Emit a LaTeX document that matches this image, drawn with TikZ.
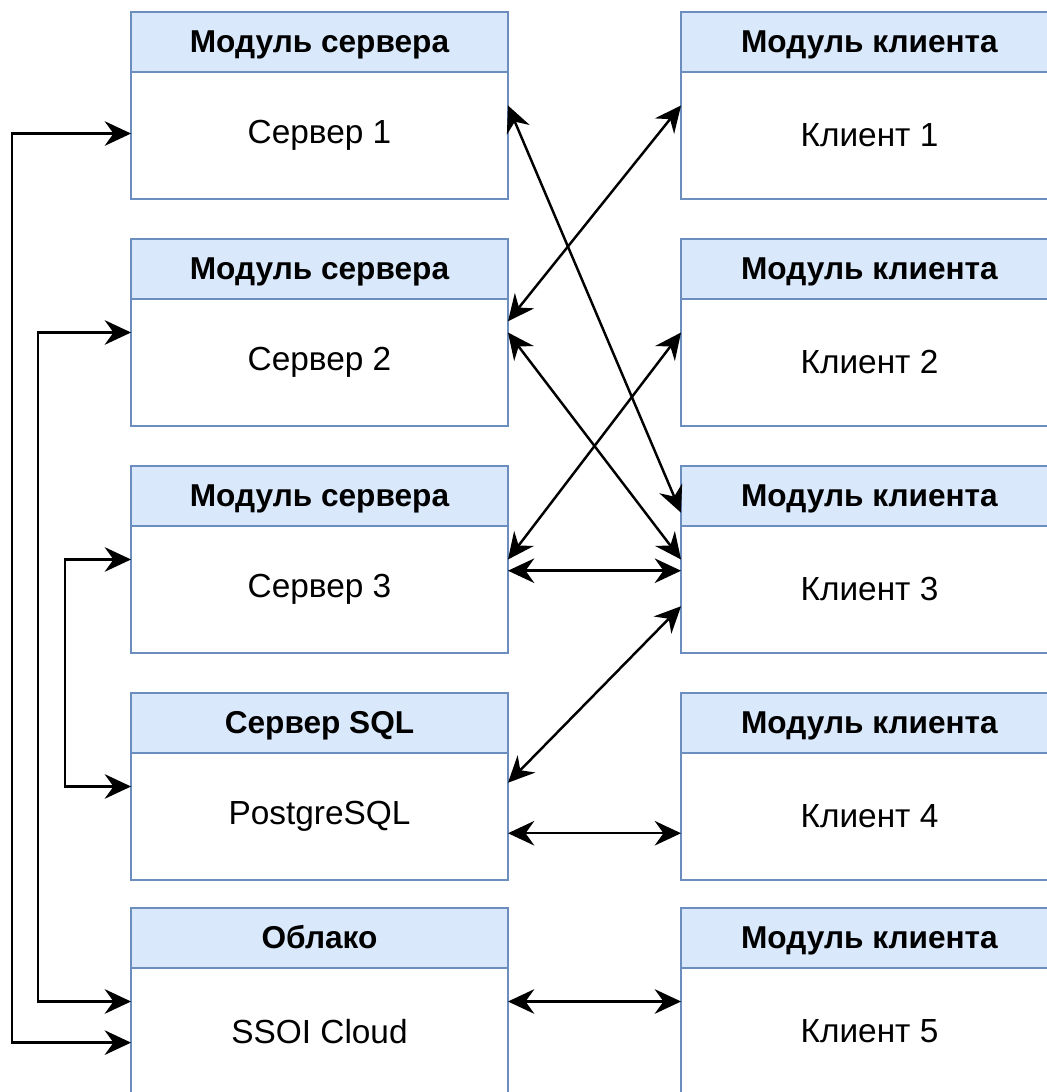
\documentclass[tikz,border=0pt]{standalone}
\usepackage{fontspec}
\setmainfont{Liberation Sans}
\usetikzlibrary{calc, positioning, arrows.meta}
\definecolor{lanefill}{HTML}{DAE8FC}
\definecolor{laneline}{HTML}{6C8EBF}

\begin{document}
\begin{tikzpicture}[x=0.02cm, y=-0.02cm,
  hdr/.style={draw=laneline, fill=lanefill, line width=1.4pt, minimum width=7.54cm, minimum height=1.2cm, inner sep=0pt, outer sep=0pt, text height=12.5pt, text depth=0pt, font=\fontsize{18}{21}\selectfont\bfseries},
  cell/.style={draw=laneline, line width=1.4pt, minimum width=7.54cm, minimum height=2.54cm, inner sep=0pt, outer sep=0pt, font=\fontsize{19}{22}\selectfont},
  link/.style={line width=1.4pt, {Stealth[length=15pt,width=14pt,inset=5pt]}-{Stealth[length=15pt,width=14pt,inset=5pt]}}]
\path[use as bounding box, fill=white] (0,0) rectangle (1046,1092);

% servers
\node[hdr] (s1h) at (319.5,42) {Модуль сервера};
\node[cell, below=0pt of s1h] (s1) {Сервер 1};
\node[hdr] (s2h) at (319.5,269) {Модуль сервера};
\node[cell, below=0pt of s2h] (s2) {Сервер 2};
\node[hdr] (s3h) at (319.5,496) {Модуль сервера};
\node[cell, below=0pt of s3h] (s3) {Сервер 3};
\node[hdr] (sqlh) at (319.5,723) {Сервер SQL};
\node[cell, below=0pt of sqlh] (sql) {PostgreSQL};
\node[hdr] (cloudh) at (319.5,938) {Облако};
\node[cell, below=0pt of cloudh] (cloud) {SSOI Cloud};

% clients
\node[hdr] (k1h) at (869.5,42) {Модуль клиента};
\node[cell, below=0pt of k1h] (k1) {Клиент 1};
\node[hdr] (k2h) at (869.5,269) {Модуль клиента};
\node[cell, below=0pt of k2h] (k2) {Клиент 2};
\node[hdr] (k3h) at (869.5,496) {Модуль клиента};
\node[cell, below=0pt of k3h] (k3) {Клиент 3};
\node[hdr] (k4h) at (869.5,723) {Модуль клиента};
\node[cell, below=0pt of k4h] (k4) {Клиент 4};
\node[hdr] (k5h) at (869.5,938) {Модуль клиента};
\node[cell, below=0pt of k5h] (k5) {Клиент 5};

% server <-> client links
\draw[link] ($(s1h.north east)!0.5!(s1.south east)$) -- ($(k3h.north west)!0.25!(k3.south west)$);
\draw[link] ($(k1h.north west)!0.5!(k1.south west)$) -- ($(s2h.north east)!0.44!(s2.south east)$);
\draw[link] ($(s2h.north east)!0.5!(s2.south east)$) -- ($(k3h.north west)!0.5!(k3.south west)$);
\draw[link] ($(k2h.north west)!0.5!(k2.south west)$) -- ($(s3h.north east)!0.5!(s3.south east)$);
\draw[link] ($(s3h.north east)!0.56!(s3.south east)$) -- ($(k3h.north west)!0.56!(k3.south west)$);
\draw[link] ($(k3h.north west)!0.75!(k3.south west)$) -- ($(sqlh.north east)!0.48!(sql.south east)$);
\draw[link] ($(sqlh.north east)!0.75!(sql.south east)$) -- ($(k4h.north west)!0.75!(k4.south west)$);
\draw[link] ($(cloudh.north east)!0.5!(cloud.south east)$) -- ($(k5h.north west)!0.5!(k5.south west)$);

% links on the left
\draw[link] ($(s1h.north west)!0.65!(s1.south west)$) -- ++(-119,0) |- ($(cloudh.north west)!0.72!(cloud.south west)$);
\draw[link] ($(s2h.north west)!0.5!(s2.south west)$) -- ++(-93,0) |- ($(cloudh.north west)!0.5!(cloud.south west)$);
\draw[link] ($(s3h.north west)!0.5!(s3.south west)$) -- ++(-66,0) |- ($(sqlh.north west)!0.5!(sql.south west)$);
\end{tikzpicture}
\end{document}
